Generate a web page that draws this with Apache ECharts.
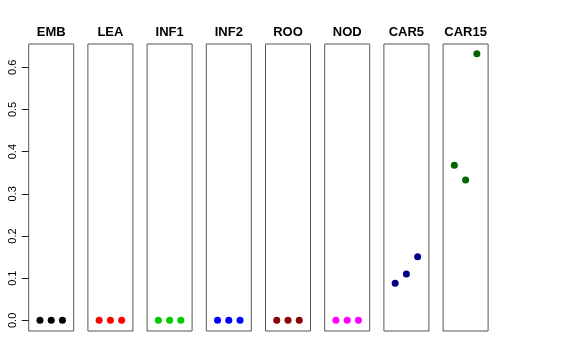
<!DOCTYPE html>
<html>
<head>
<meta charset="utf-8">
<script src="https://cdn.jsdelivr.net/npm/echarts@6/dist/echarts.min.js"></script>
<style>html,body{margin:0;padding:0;background:#fff}#c{width:576px;height:360px}</style>
</head>
<body>
<div id="c"></div>
<script>
const categories = ['EMB', 'LEA', 'INF1', 'INF2', 'ROO', 'NOD', 'CAR5', 'CAR15'];
const positions = [1, 2, 3];
const valEMB = [0, 0, 0];
const valLEA = [0, 0, 0];
const valINF1 = [0, 0, 0];
const valINF2 = [0, 0, 0];
const valROO = [0, 0, 0];
const valNOD = [0, 0, 0];
const valCAR5 = [0.088, 0.110, 0.151];
const valCAR15 = [0.368, 0.333, 0.632];
const yTicks = [0, 0.1, 0.2, 0.3, 0.4, 0.5, 0.6];
const colors = ['#000000', '#ff0000', '#00cd00', '#0000ff', '#8b0000', '#ff00ff', '#00008b', '#006400'];

const allValues = [valEMB, valLEA, valINF1, valINF2, valROO, valNOD, valCAR5, valCAR15];
const yMin = -0.0252, yMax = 0.6552;
const gLeft0 = 28.7, gStep = 59.2, gW = 45, gTop = 44, gH = 287;

const grids = [], xAxes = [], yAxes = [], series = [], titles = [];
categories.forEach((cat, i) => {
  grids.push({left: gLeft0 + i * gStep, top: gTop, width: gW, height: gH, show: true,
    borderColor: '#555', borderWidth: 1, backgroundColor: 'transparent'});
  xAxes.push({type: 'value', gridIndex: i, min: 0, max: 4, show: false});
  yAxes.push({type: 'value', gridIndex: i, min: yMin, max: yMax, show: i === 0,
    splitLine: {show: false},
    axisLine: {show: false},
    axisTick: {show: true, length: 7, customValues: yTicks, lineStyle: {color: '#222'}},
    axisLabel: {show: true, customValues: yTicks, rotate: 90, margin: 10, fontSize: 11,
      color: '#000', fontFamily: 'Liberation Sans, Arial, sans-serif',
      formatter: v => v.toFixed(1)}
  });
  series.push({type: 'scatter', xAxisIndex: i, yAxisIndex: i, symbolSize: 7,
    itemStyle: {color: colors[i], opacity: 1},
    data: positions.map((p, j) => [p, allValues[i][j]])});
  titles.push({text: cat, left: gLeft0 + i * gStep + gW / 2, top: 26, textAlign: 'center', padding: 0,
    textStyle: {fontSize: 13, fontWeight: 'bold', color: '#000', fontFamily: 'Liberation Sans, Arial, sans-serif'}});
});

const chart = echarts.init(document.getElementById('c'), null, {renderer: 'canvas'});
chart.setOption({
  animation: false,
  title: titles,
  grid: grids,
  xAxis: xAxes,
  yAxis: yAxes,
  series: series
});
</script>
</body>
</html>
